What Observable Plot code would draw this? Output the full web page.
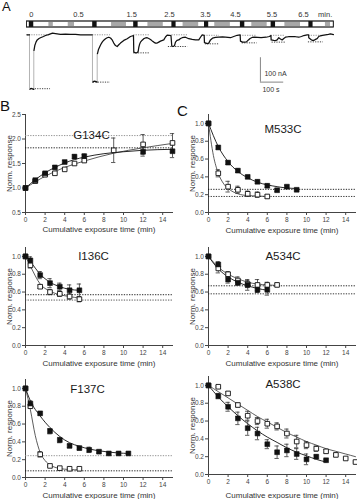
<!DOCTYPE html>
<html><head><meta charset="utf-8">
<script src="https://cdn.jsdelivr.net/npm/d3@7"></script>
<script src="https://cdn.jsdelivr.net/npm/@observablehq/plot@0.6"></script>
<style>
body{margin:0;background:#fff;}
#fig{position:relative;width:357px;height:499px;overflow:hidden;font-family:"Liberation Sans",Arial,sans-serif;background:#fff;}
#fig svg{position:absolute;overflow:visible;}
.letter{position:absolute;line-height:1;color:#111;font-family:"Liberation Sans",Arial,sans-serif;}
</style></head><body><div id="fig"></div>
<script>
// ---------- Panel A: application bar (time in s) ----------
const barEnd = 1317;
const barBlackStart = [10, 282, 458, 622, 762, 916, 1048, 1210];
const barBlackEnd   = [29, 301, 477, 640, 780, 935, 1067, 1228];
const barGrayStart  = [94, 177, 363, 519, 670, 806, 965, 1107, 1281];
const barGrayEnd    = [113, 204, 427, 585, 737, 873, 1031, 1174, 1303];
const barLabels = ["0", "0.5", "1.5", "2.5", "3.5", "4.5", "5.5", "6.5", "min."];
const barLabelT = [19, 221, 449, 612, 766, 895, 1052, 1187, 1280];

// ---------- Panel A: current trace (s, nA) ----------
const traceT = [0,10.7,
 12,15,19.3,23.6,29.2,
 30,33.5,38.6,43.8,51.5,57.9,70.8,79.4,92.3,100.9,109.4,122.3,143.8,165.2,186.7,208.2,229.6,255.4,279.8,
 282.4,287.6,294,301.3,
 302.6,306.9,311.2,316.7,322.8,329.6,336.9,344.2,351.1,358.4,365.7,372.5,379.8,387.1,394,401.3,415.5,430.1,444.2,457.1,
 458.4,459.3,465.7,473,477.3,479.8,482.9,487.1,494.4,501.3,508.6,515.9,522.8,530.1,537.4,544.2,551.5,558.8,565.7,573,587.1,594.4,601.7,611.6,618,
 621.5,626.6,633.1,637.4,643.8,651.5,658.8,666.1,680.3,694.5,709,723.2,737.4,744.7,752,760.5,
 761.8,768.3,774.7,780.3,787.6,796.2,809.1,823.2,839.1,852,873.4,887.6,902.2,915,
 916.3,924.9,933.5,942.1,950.6,957.6,966.1,976,990.6,1004.8,1026.2,1040.4,1047.2,
 1048.1,1059.3,1066.6,1073.9,1080.8,1088.1,1095.3,1102.2,1109.5,1122.4,1138.2,1152.4,1166.6,1178.2,1188,1202.6,1209.1,
 1209.5,1218.9,1225.4,1230.9,1238.2,1245.5,1252.4,1259.7,1268.3,1281.2,1294.1,1302.7,1311.3,1315.5];
const traceI = [0,0,
 -223,-221,-220,-222,-224,
 -64,-44,-30,-21,-15,-12,-7,-3,1,4,7,5,2,3,2,2,0,0,0,
 -194,-190,-191,-194,
 -77,-60,-51,-40,-30,-22,-16,-12,-10,-13,-21,-34,-44,-48,-41,-34,-23,-16,-7,-3,
 -71,-71,-74,-73,-68,-52,-40,-30,-22,-16,-13,-12,-15,-19,-25,-30,-34,-34,-30,-26,-21,-9,-1,-2,-3,
 -46,-48,-45,-30,-23,-21,-15,-12,-10,-16,-19,-21,-21,-10,0,-2,
 -32,-34,-36,-34,-21,-14,-11,-10,-9,-10,-12,-7,-2,0,
 -26,-30,-30,-29,-21,-15,-11,-10,-11,-12,-10,-7,-3,
 -21,-23,-24,-21,-12,-17,-21,-15,-10,-8,-7,-8,-10,-7,-3,0,0,
 -12,-19,-23,-23,-19,-16,-7,-4,-2,0,2,4,2,1];
const traceSeg = [0,0, 1,1,1,1,1].concat(new Array(19).fill(2), [3,3,3,3], new Array(traceT.length - 30).fill(4));
// fast transitions (drawn thin and grey)
const transT    = [10.7, 29.2, 281.1, 301.3];
const transFrom = [0, -224, 0, -194];
const transTo   = [-222, -64, -194, -77];
// reference dotted levels per test pulse
const dotStart  = [0, 282, 458, 622, 762, 916, 1048, 1210];
const dotEnd    = [101, 358, 530, 690, 826, 988, 1109, 1272];
const baseLevel = [0, 0, 0, 0, -2, -2, -2, -2];
const peakStart = [15, 285, 458, 607, 766, 924, 1052, 1208];
const peakLevel = [-221, -194, -74, -48, -37, -33, -30, -29];
// scale bar
const scaleOrigin = [1002, -194];
const scaleSeconds = 100, scaleNanoAmp = 100;

// ---------- Panel B / C data (t in min, normalised response) ----------
const g134_t  = [0,1,2,3,4,5,6,9,12,15];
const g134_f  = [1.00,1.16,1.30,1.42,1.53,1.64,1.65,null,1.74,1.75];
const g134_fe = [0,0.02,0.03,0.03,0.03,0.04,0.04,null,0.09,0.13];
const g134_o  = [1.00,1.14,1.27,1.30,1.38,1.50,1.56,1.77,1.89,1.92];
const g134_oe = [0,0.02,0.03,0.03,0.03,0.03,0.03,0.25,0.20,0.19];
const g134_fitFt = [0,1,2,3,4,5,6,8,10,12,15];
const g134_fitFv = [1.00,1.17,1.31,1.42,1.51,1.58,1.63,1.70,1.74,1.77,1.79];
const g134_fitOt = [0,2,4,6,9,12,15];
const g134_fitOv = [1.00,1.24,1.42,1.55,1.71,1.82,1.91];
const g134_asym = [2.07, 1.82];

const m533_ft = [0,1,2,3,4,5,6,7,8,9];
const m533_f  = [1.00,0.73,0.56,0.47,0.40,0.345,0.30,0.25,0.29,0.255];
const m533_fe = [0,0.02,0.02,0.02,0.015,0.02,0.02,0.015,0.015,0.015];
const m533_ot = [0,1,2,3,4,5,6];
const m533_o  = [1.00,0.44,0.29,0.255,0.21,0.20,0.18];
const m533_oe = [0,0.04,0.06,0.04,0.03,0.03,0.02];
const m533_fitFt = [0,1,2,3,4,5,6,7,8,9];
const m533_fitFv = [1,0.74,0.57,0.46,0.39,0.34,0.31,0.29,0.275,0.27];
const m533_fitOt = [0,0.5,1,1.5,2,3,4,5,6];
const m533_fitOv = [1,0.64,0.44,0.33,0.27,0.21,0.19,0.185,0.18];
const m533_asym = [0.26, 0.18];

const i136_t  = [0,0.5,1.5,2.5,3.5,4.5,5.5];
const i136_f  = [1.00,0.955,0.79,0.70,0.66,0.62,0.62];
const i136_fe = [0,0.04,0.04,0.05,0.04,0.06,0.07];
const i136_o  = [1.00,0.90,0.66,0.60,0.58,0.55,0.52];
const i136_oe = [0,0.03,0.02,0.03,0.03,0.03,0.03];
const i136_fitFv = [1,0.94,0.80,0.71,0.66,0.63,0.62];
const i136_fitOv = [1,0.89,0.69,0.61,0.57,0.55,0.53];
const i136_asym = [0.57, 0.51];

const a534_ft = [0,1,2,3,4,5,6];
const a534_f  = [1.00,0.91,0.74,0.705,0.68,0.625,0.625];
const a534_fe = [0,0.03,0.04,0.03,0.06,0.03,0.06];
const a534_ot = [0,1,2,3,4,5,6,7];
const a534_o  = [1.00,0.865,0.80,0.73,0.69,0.68,0.68,0.68];
const a534_oe = [0,0.05,0.03,0.04,0.04,0.06,0.03,0.02];
const a534_fitFv = [1,0.86,0.77,0.71,0.67,0.64,0.62];
const a534_fitOv = [1,0.88,0.80,0.75,0.71,0.69,0.68,0.675];
const a534_asym = [0.67, 0.58];

const f137_ft = [0,0.5,1.5,2.5,3.5,4.5,5.5,6.5,7.5,8.5,9.5,10.5];
const f137_f  = [1.00,0.83,0.72,0.52,0.42,0.355,0.33,0.31,0.29,0.27,0.27,0.27];
const f137_fe = [0,0.03,0.02,0.03,0.03,0.02,0.02,0.03,0.015,0.015,0.015,0.015];
const f137_ot = [0,0.5,1.5,2.5,3.5,4.5,5.5];
const f137_o  = [1.00,0.80,0.26,0.13,0.105,0.098,0.098];
const f137_oe = [0,0.02,0.03,0.01,0.01,0.01,0.01];
const f137_fitFv = [1,0.86,0.69,0.56,0.46,0.39,0.35,0.32,0.30,0.285,0.275,0.27];
const f137_fitOt = [0,0.5,1,1.5,2,2.5,3,3.5,4.5,5.5];
const f137_fitOv = [1,0.76,0.47,0.28,0.19,0.14,0.115,0.10,0.09,0.085];
const f137_asym = [0.245, 0.075];

const a538_ft = [0,1,2,3,4,5,6,7,8,9,10,11,12];
const a538_f  = [1.00,0.88,0.76,0.63,0.52,0.46,0.34,0.25,0.27,0.23,0.17,0.20,0.16];
const a538_fe = [0,0.03,0.05,0.07,0.08,0.07,0.05,0.07,0.07,0.06,0.06,0.02,0.01];
const a538_ot = [0,1,2,3,4,5,6,7,8,9,10,11,12,13,14,15];
const a538_o  = [1.00,0.985,0.91,0.78,0.66,0.60,0.57,0.54,0.46,0.37,0.33,0.29,0.26,0.22,0.18,0.14];
const a538_oe = [0,0.01,0.02,0.02,0.05,0.04,0.05,0.04,0.05,0.07,0.04,0.03,0.02,0.02,0.01,0.01];
const a538_fitFv = [1,0.87,0.76,0.66,0.57,0.49,0.42,0.36,0.30,0.25,0.21,0.17,0.14];
const a538_fitOv = [1,0.93,0.86,0.79,0.72,0.65,0.59,0.53,0.47,0.42,0.37,0.33,0.29,0.26,0.23,0.20];

const xTicks = [0,2,4,6,8,10,12,14];
const yTicksNorm = [0,0.2,0.4,0.6,0.8,1.0];
const yTicksG134 = [0.5,1.0,1.5,2.0,2.5];
const yLabel = "Norm. response";
const xLabel = "Cumulative exposure time (min)";

const FONT = '"Liberation Sans", Arial, sans-serif';
const fig = document.getElementById("fig");

function place(svg, left, top) {
  svg.style.left = left + "px";
  svg.style.top = top + "px";
  fig.appendChild(svg);
}

// ---------- Panel A ----------
const idx = a => a.map((_, i) => i);
const barPlot = Plot.plot({
  width: 357, height: 30, marginTop: 14, marginBottom: 3, marginLeft: 26.5, marginRight: 23.7,
  style: {background: "transparent", fontFamily: FONT, fontSize: "7.5px", color: "#333", overflow: "visible"},
  x: {domain: [0, barEnd], range: [26.5, 333.3], axis: null},
  y: {domain: [0, 1], range: [27, 21], axis: null},
  marks: [
    Plot.rect([0], {x1: () => 0, x2: () => barEnd, y1: () => 0, y2: () => 1, fill: "white", stroke: "#222", strokeWidth: 0.8}),
    Plot.rect(idx(barGrayStart), {x1: i => barGrayStart[i], x2: i => barGrayEnd[i], y1: () => 0, y2: () => 1, fill: "#a8a8a8"}),
    Plot.rect(idx(barBlackStart), {x1: i => barBlackStart[i], x2: i => barBlackEnd[i], y1: () => 0, y2: () => 1, fill: "#111"}),
    Plot.rect([0], {x1: () => 0, x2: () => barEnd, y1: () => 0, y2: () => 1, fill: "none", stroke: "#222", strokeWidth: 0.8}),
    Plot.text(barLabels, {x: (d, i) => barLabelT[i], text: d => d, frameAnchor: "top", lineAnchor: "middle", fill: "#333", fontSize: 7.5})
  ]
});
place(barPlot, 0, 0);

const traceRows = traceT.map((t, i) => ({t, i: traceI[i], seg: traceSeg[i]}));
const tracePlot = Plot.plot({
  width: 357, height: 100, marginTop: 28, marginBottom: 4, marginLeft: 26.5, marginRight: 23.7,
  style: {background: "transparent", fontFamily: FONT, fontSize: "7px", color: "#333", overflow: "visible"},
  x: {domain: [0, barEnd], range: [26.5, 333.3], axis: null},
  y: {domain: [-253, 25], range: [96, 28.2], axis: null},
  marks: [
    Plot.ruleY(idx(dotStart), {y: i => baseLevel[i], x1: i => dotStart[i], x2: i => dotEnd[i], stroke: "#777", strokeWidth: 0.8, strokeDasharray: "1.2,1.2"}),
    Plot.ruleY(idx(peakStart), {y: i => peakLevel[i], x1: i => peakStart[i], x2: i => dotEnd[i], stroke: "#111", strokeWidth: 0.8, strokeDasharray: "1.2,1.2"}),
    Plot.ruleX(idx(transT), {x: i => transT[i], y1: i => transFrom[i], y2: i => transTo[i], stroke: "#aaa", strokeWidth: 0.9}),
    Plot.line(traceRows, {x: "t", y: "i", z: "seg", stroke: "#111", strokeWidth: 1.25}),
    Plot.ruleX([0], {x: () => scaleOrigin[0], y1: () => scaleOrigin[1], y2: () => scaleOrigin[1] + scaleNanoAmp, stroke: "#777", strokeWidth: 0.9}),
    Plot.ruleY([0], {y: () => scaleOrigin[1], x1: () => scaleOrigin[0], x2: () => scaleOrigin[0] + scaleSeconds, stroke: "#777", strokeWidth: 0.9}),
    Plot.text([scaleNanoAmp + " nA"], {text: d => d, x: () => scaleOrigin[0], y: () => scaleOrigin[1] + 0.35 * scaleNanoAmp, dx: 4, textAnchor: "start", lineAnchor: "middle", fill: "#333", fontSize: 7}),
    Plot.text([scaleSeconds + " s"], {text: d => d, x: () => scaleOrigin[0], y: () => scaleOrigin[1], dx: 2, dy: 7.5, textAnchor: "start", lineAnchor: "middle", fill: "#333", fontSize: 7})
  ]
});
place(tracePlot, 0, 0);

// ---------- Panels B and C ----------
function panel(cfg) {
  const fRows = cfg.ft.map((t, i) => ({t, v: cfg.fv[i], e: cfg.fe[i]})).filter(d => d.v != null);
  const oRows = cfg.ot.map((t, i) => ({t, v: cfg.ov[i], e: cfg.oe[i]})).filter(d => d.v != null);
  const fitF = cfg.fitFt.map((t, i) => ({t, v: cfg.fitFv[i]}));
  const fitO = cfg.fitOt.map((t, i) => ({t, v: cfg.fitOv[i]}));
  const errMarks = rows => {
    const r = rows.filter(d => d.e > 0);
    return [
      Plot.ruleX(r, {x: "t", y1: d => d.v - d.e, y2: d => d.v + d.e, stroke: "#333", strokeWidth: 0.8}),
      Plot.ruleY(r, {y: d => d.v + d.e, x1: d => d.t - 0.22, x2: d => d.t + 0.22, stroke: "#333", strokeWidth: 0.8}),
      Plot.ruleY(r, {y: d => d.v - d.e, x1: d => d.t - 0.22, x2: d => d.t + 0.22, stroke: "#333", strokeWidth: 0.8})
    ];
  };
  const marks = [];
  (cfg.asym || []).forEach((v, i) => {
    marks.push(Plot.ruleY([v], {y: d => d, x1: () => 0, x2: () => 15, stroke: cfg.asymColor[i], strokeWidth: 0.9, strokeDasharray: "1.3,1.3"}));
  });
  marks.push(
    Plot.line(fitO, {x: "t", y: "v", curve: "monotone-x", stroke: "#333", strokeWidth: 0.8}),
    Plot.line(fitF, {x: "t", y: "v", curve: "monotone-x", stroke: "#111", strokeWidth: 0.9}),
    ...errMarks(oRows),
    ...errMarks(fRows),
    Plot.dot(oRows, {x: "t", y: "v", symbol: "square", r: 2.6, fill: "white", stroke: "#111", strokeWidth: 0.9}),
    Plot.dot(fRows, {x: "t", y: "v", symbol: "square", r: 2.7, fill: "#111", stroke: "#111", strokeWidth: 0.6}),
    Plot.text([cfg.title], {text: d => d, frameAnchor: "top", lineAnchor: "middle", textAnchor: "middle", dx: cfg.tdx, dy: cfg.tdy, fontSize: 11.5, fill: "#1a1a1a"}),
    Plot.text([yLabel], {text: d => d, frameAnchor: "left", textAnchor: "middle", lineAnchor: "middle", rotate: -90, dx: -16.5, fontSize: 8, fill: "#333"}),
    Plot.text([xLabel], {text: d => d, frameAnchor: "bottom", textAnchor: "middle", lineAnchor: "middle", dy: cfg.xdy, fontSize: 8, fill: "#333"})
  );
  const svg = Plot.plot({
    width: cfg.width, height: cfg.height,
    marginLeft: cfg.mL, marginRight: cfg.mR, marginTop: cfg.mT, marginBottom: cfg.mB,
    style: {background: "transparent", fontFamily: FONT, fontSize: "6.5px", color: "#444", overflow: "visible"},
    x: {domain: [0, 15], ticks: xTicks, tickSize: 3, tickPadding: 1.5, line: true, label: null, tickFormat: d3.format("d")},
    y: {domain: cfg.yDomain, ticks: cfg.yTicks, tickSize: 3, tickPadding: 1.5, line: true, label: null, tickFormat: d3.format(".1f")},
    marks
  });
  place(svg, cfg.left, cfg.top);
}

const L = {left: 0, width: 180, mL: 25, mR: 8};
const R = {left: 175, width: 182, mL: 33, mR: 2};

panel({...L, top: 92, height: 148, mT: 22, mB: 28, yDomain: [0.5, 2.5], yTicks: yTicksG134,
  title: "G134C", tdx: -7.5, tdy: 20.5, xdy: 17,
  ft: g134_t, fv: g134_f, fe: g134_fe, ot: g134_t, ov: g134_o, oe: g134_oe,
  fitFt: g134_fitFt, fitFv: g134_fitFv, fitOt: g134_fitOt, fitOv: g134_fitOv,
  asym: g134_asym, asymColor: ["#888", "#111"]});

panel({...R, top: 92, height: 148, mT: 22, mB: 28, yDomain: [0, 1.1], yTicks: yTicksNorm,
  title: "M533C", tdx: 1, tdy: 15, xdy: 17.5,
  ft: m533_ft, fv: m533_f, fe: m533_fe, ot: m533_ot, ov: m533_o, oe: m533_oe,
  fitFt: m533_fitFt, fitFv: m533_fitFv, fitOt: m533_fitOt, fitOv: m533_fitOv,
  asym: m533_asym, asymColor: ["#111", "#222"]});

panel({...L, top: 240, height: 130, mT: 7, mB: 25, yDomain: [0, 1.1], yTicks: yTicksNorm,
  title: "I136C", tdx: -5.5, tdy: 9, xdy: 18,
  ft: i136_t, fv: i136_f, fe: i136_fe, ot: i136_t, ov: i136_o, oe: i136_oe,
  fitFt: i136_t, fitFv: i136_fitFv, fitOt: i136_t, fitOv: i136_fitOv,
  asym: i136_asym, asymColor: ["#111", "#444"]});

panel({...R, top: 240, height: 130, mT: 7, mB: 25, yDomain: [0, 1.1], yTicks: yTicksNorm,
  title: "A534C", tdx: 1, tdy: 8.5, xdy: 18,
  ft: a534_ft, fv: a534_f, fe: a534_fe, ot: a534_ot, ov: a534_o, oe: a534_oe,
  fitFt: a534_ft, fitFv: a534_fitFv, fitOt: a534_ot, fitOv: a534_fitOv,
  asym: a534_asym, asymColor: ["#111", "#222"]});

panel({...L, top: 370, height: 129, mT: 9, mB: 22, yDomain: [0, 1.1], yTicks: yTicksNorm,
  title: "F137C", tdx: -11.5, tdy: 10, xdy: 18,
  ft: f137_ft, fv: f137_f, fe: f137_fe, ot: f137_ot, ov: f137_o, oe: f137_oe,
  fitFt: f137_ft, fitFv: f137_fitFv, fitOt: f137_fitOt, fitOv: f137_fitOv,
  asym: f137_asym, asymColor: ["#888", "#111"]});

panel({...R, top: 370, height: 129, mT: 6, mB: 25, yDomain: [0, 1.1], yTicks: yTicksNorm,
  title: "A538C", tdx: 1, tdy: 7.5, xdy: 21,
  ft: a538_ft, fv: a538_f, fe: a538_fe, ot: a538_ot, ov: a538_o, oe: a538_oe,
  fitFt: a538_ft, fitFv: a538_fitFv, fitOt: a538_ot, fitOv: a538_fitOv,
  asym: [], asymColor: []});

// panel letters
[["A", 2, 0, 13], ["B", 0, 98, 15], ["C", 177, 103, 15]].forEach(([t, x, y, s]) => {
  const d = document.createElement("div");
  d.className = "letter";
  d.textContent = t;
  d.style.left = x + "px"; d.style.top = y + "px"; d.style.fontSize = s + "px";
  fig.appendChild(d);
});
</script></body></html>
